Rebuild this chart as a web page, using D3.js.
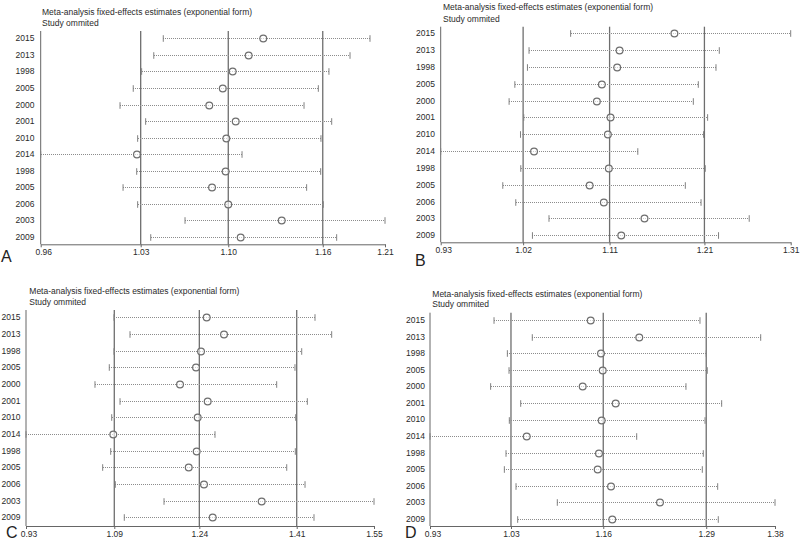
<!DOCTYPE html>
<html><head><meta charset="utf-8">
<script src="https://cdn.jsdelivr.net/npm/d3@7/dist/d3.min.js"></script>
<style>
html,body{margin:0;padding:0;background:#fff;}
svg{display:block;font-family:"Liberation Sans",Arial,sans-serif;}
</style></head>
<body>
<svg id="chart" width="800" height="541"></svg>
<script>
// ---------- DATA ----------
const studies = ["2015","2013","1998","2005","2000","2001","2010","2014","1998","2005","2006","2003","2009"];
const titleLine1 = "Meta-analysis fixed-effects estimates (exponential form)";
const titleLine2 = "Study ommited";
const panelLetters = ["A","B","C","D"];

// Panel A
const lowerA = [1.0490,1.0421,1.0333,1.0272,1.0176,1.0362,1.0304,0.9600,1.0297,1.0198,1.0304,1.0648,1.0399];
const estA   = [1.1216,1.1110,1.0994,1.0922,1.0824,1.1016,1.0948,1.0299,1.0943,1.0844,1.0962,1.1350,1.1052];
const upperA = [1.1991,1.1846,1.1693,1.1616,1.1512,1.1713,1.1635,1.1062,1.1633,1.1531,1.1652,1.2100,1.1749];
const ticksA = [0.9600,1.0326,1.0962,1.1648,1.2100];

// Panel B
const lowerB = [1.0721,1.0279,1.0262,1.0128,1.0067,1.0223,1.0188,0.9340,1.0191,1.0000,1.0138,1.0491,1.0315];
const estB   = [1.1824,1.1241,1.1216,1.1053,1.1000,1.1145,1.1117,1.0332,1.1127,1.0923,1.1074,1.1506,1.1259];
const upperB = [1.3060,1.2301,1.2266,1.2078,1.2025,1.2177,1.2134,1.1435,1.2152,1.1940,1.2107,1.2619,1.2293];
const ticksB = [0.9340,1.0216,1.1135,1.2143,1.3060];

// Panel C
const lowerC = [1.0868,1.1153,1.0868,1.0784,1.0529,1.0975,1.0827,0.9300,1.0809,1.0666,1.0891,1.1759,1.1051];
const estC   = [1.2519,1.2828,1.2418,1.2329,1.2044,1.2537,1.2359,1.0855,1.2341,1.2199,1.2471,1.3499,1.2626];
const upperC = [1.4449,1.4746,1.4212,1.4092,1.3766,1.4312,1.4105,1.2667,1.4098,1.3945,1.4271,1.5500,1.4431];
const ticksC = [0.9300,1.0873,1.2388,1.4123,1.5500];

// Panel D
const lowerD = [1.0110,1.0618,1.0287,1.0309,1.0065,1.0464,1.0313,0.9260,1.0269,1.0247,1.0402,1.0950,1.0424];
const estD   = [1.1393,1.2038,1.1530,1.1553,1.1287,1.1725,1.1539,1.0544,1.1503,1.1486,1.1663,1.2313,1.1680];
const upperD = [1.2844,1.3650,1.2927,1.2941,1.2658,1.3132,1.2911,1.2004,1.2888,1.2875,1.3079,1.3840,1.3087];
const ticksD = [0.9260,1.0335,1.1560,1.2927,1.3840];

// ---------- LAYOUT ----------
const layouts = [
  {x0:40.7, x1:385,   top:31,   axisY:244.3, row0:38.3,  row1:237,   titleX:42,    t1:15,    t2:26.3,  labelR:34.5, lx:1,   ly:262},
  {x0:440.7,x1:790.7, top:26.7, axisY:242.3, row0:33.3,  row1:235.3, titleX:443,   t1:10,    t2:21.5,  labelR:435,  lx:415, ly:266},
  {x0:26,   x1:374,   top:310,  axisY:526,   row0:317.3, row1:517.3, titleX:29.3,  t1:293.7, t2:304.7, labelR:20.5, lx:6,   ly:538},
  {x0:430,  x1:775,   top:312.7,axisY:526,   row0:320,   row1:519,   titleX:432.3, t1:297,   t2:307.3, labelR:425,  lx:405, ly:538}
];
const panels = [
  {lower:lowerA, est:estA, upper:upperA, ticks:ticksA},
  {lower:lowerB, est:estB, upper:upperB, ticks:ticksB},
  {lower:lowerC, est:estC, upper:upperC, ticks:ticksC},
  {lower:lowerD, est:estD, upper:upperD, ticks:ticksD}
];

const svg = d3.select("#chart");
const textCol = "#2a2a2a";
const fmt = d3.format(".2f");

panels.forEach((p, pi) => {
  const L = layouts[pi];
  const g = svg.append("g");
  const x = d3.scaleLinear().domain([p.ticks[0], p.ticks[p.ticks.length-1]]).range([L.x0, L.x1]);
  const idx = studies.map((d,i)=>i);
  const y = d3.scalePoint().domain(idx).range([L.row0, L.row1]);
  const yc = i => Math.round(y(i)) + 0.5;

  // titles
  g.append("text").attr("x", L.titleX).attr("y", L.t1).attr("font-size", 8.5).attr("fill", textCol).text(titleLine1);
  g.append("text").attr("x", L.titleX).attr("y", L.t2).attr("font-size", 8.5).attr("fill", textCol).text(titleLine2);

  // reference vertical lines (overall lower CI, estimate, upper CI)
  g.selectAll("line.ref").data(p.ticks.slice(1,4)).enter().append("line")
    .attr("class","ref")
    .attr("x1", d=>x(d)).attr("x2", d=>x(d))
    .attr("y1", L.top).attr("y2", L.axisY)
    .attr("stroke", "#6e6e6e").attr("stroke-width", 1.3);

  // y axis line
  g.append("line").attr("x1", L.x0).attr("x2", L.x0).attr("y1", L.top).attr("y2", L.axisY)
    .attr("stroke", "#666").attr("stroke-width", 1);

  // x axis
  const xAxis = d3.axisBottom(x).tickValues(p.ticks).tickFormat(fmt).tickSize(3).tickSizeOuter(0);
  const ax = g.append("g").attr("transform", `translate(0,${L.axisY})`).call(xAxis);
  ax.select(".domain").attr("stroke", "#666").attr("stroke-width", 1);
  ax.selectAll(".tick line").attr("stroke", "#666");
  ax.selectAll(".tick text").attr("font-size", 8.5).attr("fill", textCol)
    .attr("font-family", "Liberation Sans, Arial, sans-serif").attr("dy", "0.6em")
    .attr("dx", (d,i)=> i===0 ? 2.5 : 0);

  // row labels
  g.selectAll("text.row").data(idx).enter().append("text")
    .attr("class","row")
    .attr("x", L.labelR).attr("y", i=>y(i)).attr("dy","0.35em")
    .attr("text-anchor","end").attr("font-size", 8.5).attr("fill", textCol)
    .text(i=>studies[i]);

  // CI dotted lines
  g.selectAll("line.ci").data(idx).enter().append("line")
    .attr("class","ci")
    .attr("x1", i=>Math.round(x(p.lower[i]))).attr("x2", i=>x(p.upper[i]))
    .attr("y1", yc).attr("y2", yc)
    .attr("stroke", "#8c8c8c").attr("stroke-width", 1).attr("stroke-dasharray", "1,1")
    .attr("shape-rendering", "crispEdges");

  // caps
  ["lower","upper"].forEach(k => {
    g.selectAll("line.cap"+k).data(idx).enter().append("line")
      .attr("class","cap"+k)
      .attr("x1", i=>x(p[k][i])).attr("x2", i=>x(p[k][i]))
      .attr("y1", i=>yc(i)-3.3).attr("y2", i=>yc(i)+3.3)
      .attr("stroke", "#808080").attr("stroke-width", 1);
  });

  // estimate circles
  g.selectAll("circle.est").data(idx).enter().append("circle")
    .attr("class","est")
    .attr("cx", i=>x(p.est[i])).attr("cy", yc).attr("r", 3.4)
    .attr("fill", "#fff").attr("fill-opacity", 0.6)
    .attr("stroke", "#6e6e6e").attr("stroke-width", 1.2);

  // panel letter
  g.append("text").attr("x", L.lx).attr("y", L.ly).attr("font-size", 16).attr("fill", "#222").text(panelLetters[pi]);
});
</script>
</body></html>
